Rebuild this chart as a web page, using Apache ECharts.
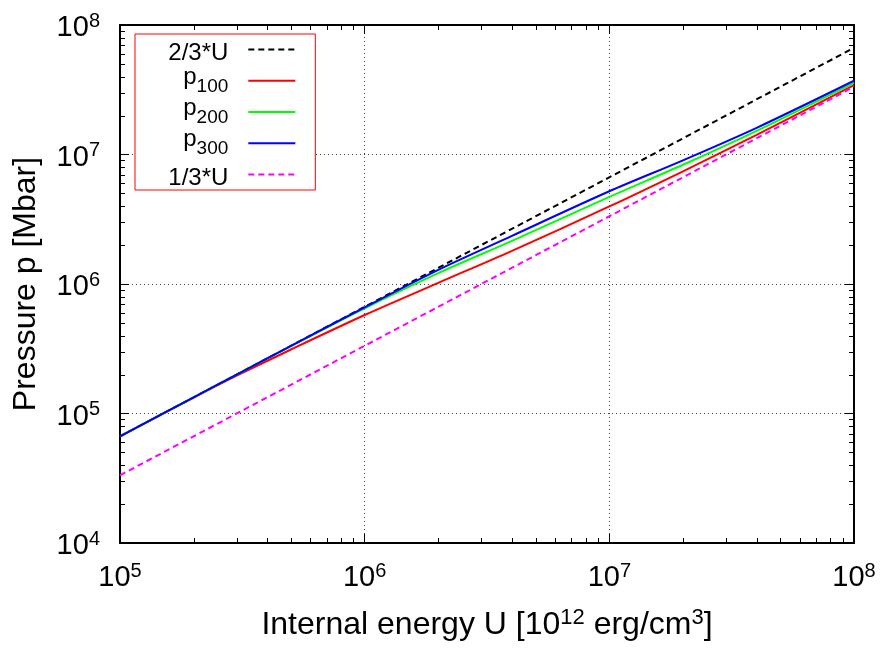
<!DOCTYPE html>
<html>
<head>
<meta charset="utf-8">
<title>Pressure vs internal energy</title>
<script src="https://cdn.jsdelivr.net/npm/echarts@6/dist/echarts.min.js"></script>
<style>
  html, body { margin: 0; padding: 0; background: #ffffff; }
  #chart { width: 882px; height: 648px; }
</style>
</head>
<body>
<div id="chart"></div>
<script>
// Internal energy U [10^12 erg/cm^3] where the pressure curves are sampled
const energyU = [1e5, 2e5, 3e5, 5e5, 1e6, 2e6, 4e6, 1e7, 2e7, 4e7, 1e8];

// Pressure p [Mbar] for the three cases
const p100 = [6.67e4, 1.327e5, 1.958e5, 3.12e5, 5.76e5, 1.021e6, 1.804e6, 3.97e6, 7.42e6, 1.419e7, 3.44e7];
const p200 = [6.67e4, 1.333e5, 2.0e5, 3.32e5, 6.49e5, 1.213e6, 2.155e6, 4.71e6, 8.33e6, 1.524e7, 3.58e7];
const p300 = [6.67e4, 1.333e5, 2.0e5, 3.33e5, 6.61e5, 1.287e6, 2.355e6, 5.20e6, 9.02e6, 1.607e7, 3.71e7];

// Reference lines p = 2/3*U and p = 1/3*U (end points)
const refEnergy = [1e5, 1e8];
const twoThirdsU = [6.6667e4, 6.6667e7];
const oneThirdU = [3.3333e4, 3.3333e7];

// Axis ranges
const xRange = [1e5, 1e8];
const yRange = [1e4, 1e8];

// Minor tick positions (2..9 within each decade)
const xMinorTicks = [2e5, 3e5, 4e5, 5e5, 6e5, 7e5, 8e5, 9e5,
                     2e6, 3e6, 4e6, 5e6, 6e6, 7e6, 8e6, 9e6,
                     2e7, 3e7, 4e7, 5e7, 6e7, 7e7, 8e7, 9e7];
const yMinorTicks = [2e4, 3e4, 4e4, 5e4, 6e4, 7e4, 8e4, 9e4,
                     2e5, 3e5, 4e5, 5e5, 6e5, 7e5, 8e5, 9e5,
                     2e6, 3e6, 4e6, 5e6, 6e6, 7e6, 8e6, 9e6,
                     2e7, 3e7, 4e7, 5e7, 6e7, 7e7, 8e7, 9e7];

const FONT = "'Liberation Sans', Arial, Helvetica, sans-serif";
const MINOR_LEN = 5;

function pairs(xs, ys) {
  return xs.map((x, i) => [x, ys[i]]);
}

function decadeLabel(v) {
  return '{b|10}{e|' + Math.round(Math.log10(v)) + '}';
}

const tickRich = {
  b: { fontFamily: FONT, fontSize: 29, lineHeight: 34, color: '#000' },
  e: { fontFamily: FONT, fontSize: 20, lineHeight: 12, verticalAlign: 'top', color: '#000' }
};

const frameLine = { show: true, onZero: false, lineStyle: { color: '#000', width: 2 } };
const majorTick = { show: true, inside: true, length: 9, lineStyle: { color: '#000', width: 1 } };
const gridDots = { show: true, lineStyle: { color: '#444', width: 1, type: [1, 3] } };

function tickSegment(x1, y1, x2, y2) {
  return {
    type: 'line',
    shape: { x1: x1, y1: y1, x2: x2, y2: y2 },
    style: { stroke: '#000', lineWidth: 1 }
  };
}

// Minor ticks along the bottom and top frame edges
function renderXMinor(params, api) {
  const v = api.value(0);
  const bottom = api.coord([v, yRange[0]]);
  const top = api.coord([v, yRange[1]]);
  const x = Math.round(bottom[0]) + 0.5;
  return {
    type: 'group',
    children: [
      tickSegment(x, bottom[1], x, bottom[1] - MINOR_LEN),
      tickSegment(x, top[1], x, top[1] + MINOR_LEN)
    ]
  };
}

// Minor ticks along the left and right frame edges
function renderYMinor(params, api) {
  const v = api.value(1);
  const left = api.coord([xRange[0], v]);
  const right = api.coord([xRange[1], v]);
  const y = Math.round(left[1]) + 0.5;
  return {
    type: 'group',
    children: [
      tickSegment(left[0], y, left[0] + MINOR_LEN, y),
      tickSegment(right[0], y, right[0] - MINOR_LEN, y)
    ]
  };
}

// Legend entries; "h" is an empty strut that fixes every row's height
const legendNames = {
  '2/3*U': '{h| }{t|2/3*U}',
  'p100': '{h| }{p|p}{s|100}',
  'p200': '{h| }{p|p}{s|200}',
  'p300': '{h| }{p|p}{s|300}',
  '1/3*U': '{h| }{t|1/3*U}'
};

const chart = echarts.init(document.getElementById('chart'), null, { renderer: 'canvas' });

chart.setOption({
  backgroundColor: '#ffffff',
  animation: false,
  grid: { left: 117, right: 28, top: 25, bottom: 105, containLabel: false },
  legend: {
    orient: 'vertical',
    left: 135,
    top: 34,
    align: 'right',
    selectedMode: false,
    itemWidth: 47,
    itemHeight: 14,
    itemGap: 0.25,
    padding: [0, 19, 0, 33],
    borderColor: '#ff0000',
    borderWidth: 1,
    borderRadius: 0,
    backgroundColor: '#ffffff',
    itemStyle: { opacity: 0 },
    formatter: name => legendNames[name],
    textStyle: {
      fontFamily: FONT, fontSize: 24, color: '#000', lineHeight: 31,
      padding: [0, 15, 0, 0],
      rich: {
        h: { fontFamily: FONT, fontSize: 1, lineHeight: 31 },
        t: { fontFamily: FONT, fontSize: 24, lineHeight: 26, verticalAlign: 'bottom', color: '#000' },
        p: { fontFamily: FONT, fontSize: 24, lineHeight: 29, verticalAlign: 'top', color: '#000' },
        s: { fontFamily: FONT, fontSize: 19, lineHeight: 14, verticalAlign: 'bottom', color: '#000' }
      }
    },
    data: ['2/3*U', 'p100', 'p200', 'p300', '1/3*U']
  },
  xAxis: [
    {
      type: 'log', logBase: 10, min: xRange[0], max: xRange[1], position: 'bottom',
      name: '{a|Internal energy U [10}{e|12}{a| erg/cm}{e|3}{a|]}',
      nameLocation: 'middle', nameGap: 64,
      nameTextStyle: {
        rich: {
          a: { fontFamily: FONT, fontSize: 32, lineHeight: 36, color: '#000' },
          e: { fontFamily: FONT, fontSize: 22, lineHeight: 14, verticalAlign: 'top', color: '#000' }
        }
      },
      axisLine: frameLine,
      axisTick: majorTick,
      axisLabel: { margin: 18, formatter: decadeLabel, rich: tickRich },
      splitLine: gridDots
    },
    {
      type: 'log', logBase: 10, min: xRange[0], max: xRange[1], position: 'top',
      axisLine: frameLine, axisTick: majorTick,
      axisLabel: { show: false }, splitLine: { show: false }
    }
  ],
  yAxis: [
    {
      type: 'log', logBase: 10, min: yRange[0], max: yRange[1], position: 'left',
      name: 'Pressure p [Mbar]',
      nameLocation: 'middle', nameGap: 76,
      nameTextStyle: { fontFamily: FONT, fontSize: 32, lineHeight: 36, color: '#000' },
      axisLine: frameLine,
      axisTick: majorTick,
      axisLabel: { margin: 20, padding: [6, 0, 0, 0], formatter: decadeLabel, rich: tickRich },
      splitLine: gridDots
    },
    {
      type: 'log', logBase: 10, min: yRange[0], max: yRange[1], position: 'right',
      axisLine: frameLine, axisTick: majorTick,
      axisLabel: { show: false }, splitLine: { show: false }
    }
  ],
  series: [
    {
      name: 'xMinorTicks', type: 'custom', xAxisIndex: 0, yAxisIndex: 0,
      data: xMinorTicks.map(v => [v, yRange[0]]),
      renderItem: renderXMinor, clip: false, silent: true, z: 1
    },
    {
      name: 'yMinorTicks', type: 'custom', xAxisIndex: 0, yAxisIndex: 0,
      data: yMinorTicks.map(v => [xRange[0], v]),
      renderItem: renderYMinor, clip: false, silent: true, z: 1
    },
    {
      name: '2/3*U', type: 'line', xAxisIndex: 0, yAxisIndex: 0,
      data: pairs(refEnergy, twoThirdsU), symbol: 'none', silent: true,
      itemStyle: { color: '#000000' },
      lineStyle: { color: '#000000', width: 2, type: [6, 4] }
    },
    {
      name: 'p100', type: 'line', xAxisIndex: 0, yAxisIndex: 0,
      data: pairs(energyU, p100), symbol: 'none', smooth: 0.3, silent: true,
      itemStyle: { color: '#ff0000' },
      lineStyle: { color: '#ff0000', width: 2 }
    },
    {
      name: 'p200', type: 'line', xAxisIndex: 0, yAxisIndex: 0,
      data: pairs(energyU, p200), symbol: 'none', smooth: 0.3, silent: true,
      itemStyle: { color: '#00ff00' },
      lineStyle: { color: '#00ff00', width: 2 }
    },
    {
      name: 'p300', type: 'line', xAxisIndex: 0, yAxisIndex: 0,
      data: pairs(energyU, p300), symbol: 'none', smooth: 0.3, silent: true,
      itemStyle: { color: '#0000ff' },
      lineStyle: { color: '#0000ff', width: 2 }
    },
    {
      name: '1/3*U', type: 'line', xAxisIndex: 0, yAxisIndex: 0,
      data: pairs(refEnergy, oneThirdU), symbol: 'none', silent: true,
      itemStyle: { color: '#ff00ff' },
      lineStyle: { color: '#ff00ff', width: 2, type: [6, 4] }
    }
  ]
});
</script>
</body>
</html>
